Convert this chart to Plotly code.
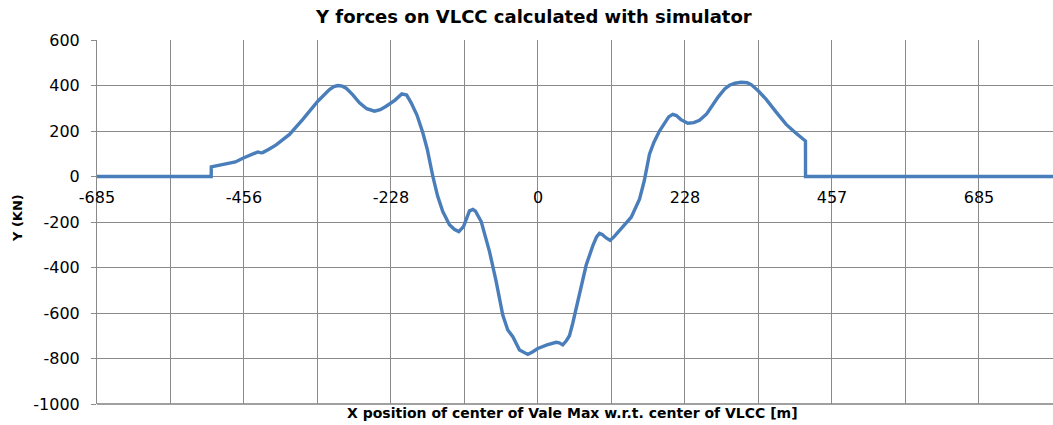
import plotly.graph_objects as go

# Lateral (Y) force on the VLCC versus the longitudinal position of the Vale Max
x_pos = [-685, -507.6, -507.5, -489.6, -470, -458.5, -445, -435.2, -430, -427.5,
         -418, -406.7, -386, -365.3, -342, -332, -323.9, -317, -311, -304,
         -297.9, -288, -277.3, -266, -254, -245, -235.8, -222, -211.6, -204,
         -197, -188, -179, -172, -168.5, -163.3, -156, -147.9, -137.5, -130,
         -123, -115.7, -111, -106.4, -101, -97.1, -88.2, -75.3, -64.9, -54.7,
         -46.9, -39.1, -28.7, -22, -15.8, -8, -0.3, 14, 28.3, 33,
         38.5, 44, 48.9, 54, 59.3, 67, 74.9, 85.1, 91, 95.5,
         99.7, 106, 112.1, 119, 126.6, 135, 144.8, 151, 157.7, 165,
         173.2, 180, 188.7, 198, 203, 209.4, 215, 222, 232.7, 242,
         250.9, 262, 271.5, 280, 290, 297.5, 306, 315.6, 325, 331.2,
         342, 354.5, 370, 385.5, 400, 415.5, 415.6, 800]
y_force = [0, 0, 42, 54, 64, 80, 94, 108, 104, 105,
           120, 139, 185, 251, 331, 360, 382, 395, 400, 397,
           388, 360, 324, 298, 287, 294, 309, 336, 363, 358,
           324, 270, 193, 120, 69, 0, -85, -154, -212, -232,
           -242, -220, -185, -151, -145, -152, -198, -330, -462, -609,
           -675, -704, -763, -775, -782, -770, -756, -740, -729, -731,
           -740, -722, -700, -645, -579, -480, -389, -305, -265, -250,
           -255, -270, -281, -262, -235, -210, -179, -140, -100, -20,
           98, 150, 200, 240, 262, 273, 268, 250, 234, 237,
           247, 275, 317, 350, 385, 401, 410, 414, 412, 404,
           377, 339, 283, 229, 192, 156, 0, 0]

# Category-style x axis: a grid line every 114.17 m, a label on every second one
grid_x = [-685 + 114.1667 * i for i in range(14)]
grid_labels = ["-685", "", "-456", "", "-228", "", "0", "", "228", "", "457", "", "685", ""]

y_ticks = [600, 400, 200, 0, -200, -400, -600, -800, -1000]
y_labels = ["600", "400", "200", "0", "-200", "-400", "-600", "-800", "-1000"]

FONT = "DejaVu Sans"
GRID = "#8a8a8a"

fig = go.Figure()
fig.add_trace(go.Scatter(
    x=x_pos, y=y_force, mode="lines",
    line=dict(color="#4a7ebb", width=3.4),
    showlegend=False, hoverinfo="x+y",
))

fig.update_layout(
    width=1053, height=425,
    margin=dict(l=97, r=0, t=40, b=21),
    paper_bgcolor="white", plot_bgcolor="white",
    font=dict(family=FONT, size=16, color="#000000"),
    title=dict(
        text="<b>Y forces on VLCC calculated with simulator</b>",
        x=0.507, xanchor="center", y=0.96, yanchor="middle",
        font=dict(family=FONT, size=18, color="#000000"),
    ),
    xaxis=dict(
        range=[-685, 800],
        tickmode="array", tickvals=grid_x, ticktext=grid_labels,
        showgrid=True, gridcolor=GRID, gridwidth=1,
        zeroline=False, showline=False,
        anchor="free", position=0.625,
        ticks="", tickfont=dict(family=FONT, size=16, color="#000000"),
        ticklabelstandoff=9,
    ),
    yaxis=dict(
        range=[-1000, 600],
        tickmode="array", tickvals=y_ticks, ticktext=y_labels,
        showgrid=True, gridcolor=GRID, gridwidth=1,
        zeroline=False, showline=True, linecolor=GRID, linewidth=1,
        ticks="outside", ticklen=5, tickcolor=GRID,
        tickfont=dict(family=FONT, size=16, color="#000000"),
        ticklabelstandoff=8,
    ),
    annotations=[
        dict(text="<b>X position of center of Vale Max w.r.t. center of VLCC [m]</b>",
             xref="paper", yref="paper", x=0.497, y=-0.024, xanchor="center", yanchor="middle",
             showarrow=False, font=dict(family=FONT, size=14, color="#000000")),
        dict(text="<b>Y (KN)</b>", textangle=-90,
             xref="paper", yref="paper", x=-0.083, y=0.51, xanchor="center", yanchor="middle",
             showarrow=False, font=dict(family=FONT, size=13, color="#000000")),
    ],
    shapes=[
        dict(type="line", xref="paper", yref="paper", x0=0, x1=1, y0=0, y1=0,
             line=dict(color="#a0a0a0", width=2), layer="below"),
    ],
)

fig.write_html("out.html")
